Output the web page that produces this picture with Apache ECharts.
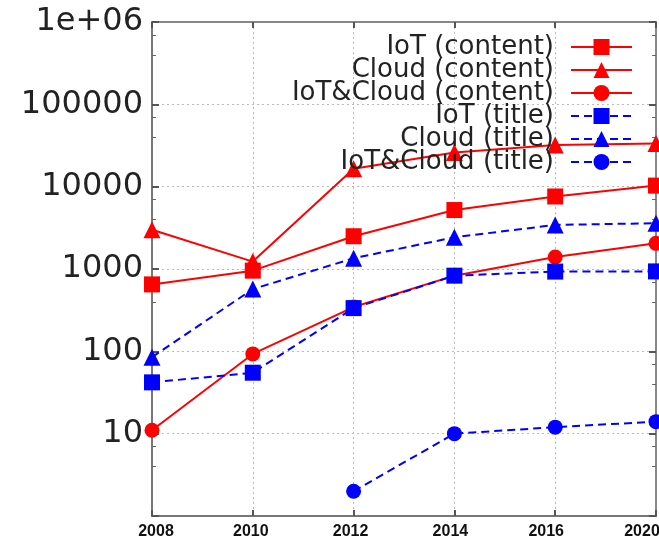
<!DOCTYPE html>
<html>
<head>
<meta charset="utf-8">
<script src="https://cdn.jsdelivr.net/npm/echarts@6/dist/echarts.min.js"></script>
<style>
html,body{margin:0;padding:0;background:#fff;}
#c{width:659px;height:544px;}
</style>
</head>
<body>
<div id="c"></div>
<script>
var years = ['2008', '2010', '2012', '2014', '2016', '2020'];
var iotContent = [650, 955, 2500, 5200, 7600, 10300];
var cloudContent = [3000, 1230, 16500, 26000, 32000, 33500];
var iotCloudContent = [11, 93, 345, 830, 1400, 2050];
var iotTitle = [42, 55, 335, 830, 930, 935];
var cloudTitle = [85, 570, 1350, 2430, 3430, 3600];
var iotCloudTitle = [null, null, 2, 10, 12, 14];
var yTickLabels = {1: '', 10: '10', 100: '100', 1000: '1000', 10000: '10000', 100000: '100000', 1000000: '1e+06'};

var RED = '#ff0000', BLUE = '#0000ff';
// the year labels in the picture sit slightly off their ticks
var labelShift = [4, -2, -3, -4, -9, -14];
var xData = years.map(function (y, i) {
  var s = labelShift[i];
  return {value: y, textStyle: {padding: s >= 0 ? [0, 0, 0, 2 * s] : [0, -2 * s, 0, 0]}};
});
function mk(name, data, color, symbol, size, dashed) {
  return {
    name: name, type: 'line', data: data,
    symbol: symbol, symbolSize: size,
    showSymbol: true,
    lineStyle: {color: color, width: 2, type: dashed ? [8, 5] : 'solid'},
    itemStyle: {color: color},
    emphasis: {disabled: true},
    animation: false
  };
}
var gridLine = {show: true, lineStyle: {color: '#bbb', type: [2, 3], width: 1}};
var chart = echarts.init(document.getElementById('c'));
chart.setOption({
  backgroundColor: '#fff',
  animation: false,
  grid: {left: 152, right: 3, top: 22, bottom: 28, show: true, borderColor: '#888', borderWidth: 2, outerBoundsMode: 'none', containLabel: false},
  legend: {
    orient: 'vertical', right: 26, top: 34, padding: 0,
    align: 'right', itemWidth: 61, itemHeight: 20, itemGap: -3,
    selectedMode: false,
    textStyle: {fontFamily: 'DejaVu Sans', fontSize: 26, color: '#222', lineHeight: 23, padding: [0, 12, 0, 0]},
    data: ['IoT (content)', 'Cloud (content)', 'IoT&Cloud (content)', 'IoT (title)', 'Cloud (title)', 'IoT&Cloud (title)']
  },
  xAxis: [{
    type: 'category', data: xData, boundaryGap: false,
    axisLine: {lineStyle: {color: '#777', width: 2}},
    axisTick: {inside: true, length: 6, lineStyle: {color: '#555', width: 2}},
    axisLabel: {fontFamily: 'Liberation Sans', fontWeight: 'bold', fontSize: 16, color: '#111', margin: 8},
    splitLine: gridLine
  }, {
    type: 'category', data: years, boundaryGap: false, position: 'top',
    axisLine: {lineStyle: {color: '#888', width: 2}},
    axisTick: {inside: true, length: 6, lineStyle: {color: '#555', width: 2}},
    axisLabel: {show: false}, splitLine: {show: false}
  }],
  yAxis: [{
    type: 'log', logBase: 10, min: 1, max: 1000000, splitNumber: 6,
    axisLine: {show: true, lineStyle: {color: '#777', width: 2}},
    axisTick: {show: true, inside: true, length: 7, lineStyle: {color: '#555', width: 2}},
    minorTick: {show: true, splitNumber: 3, length: 4, lineStyle: {color: '#666'}},
    axisLabel: {fontFamily: 'DejaVu Sans', fontSize: 32, color: '#222', margin: 9,
      formatter: function (v) { var k = Math.round(v); return yTickLabels[k] !== undefined ? yTickLabels[k] : ''; }},
    splitLine: gridLine
  }, {
    type: 'log', logBase: 10, min: 1, max: 1000000, splitNumber: 6, position: 'right',
    axisLine: {show: true, lineStyle: {color: '#888', width: 2}},
    axisTick: {show: true, inside: true, length: 7, lineStyle: {color: '#555', width: 2}},
    minorTick: {show: true, splitNumber: 3, length: 4, lineStyle: {color: '#666'}},
    axisLabel: {show: false}, splitLine: {show: false}
  }],
  series: [
    mk('IoT (content)', iotContent, RED, 'rect', 16, false),
    mk('Cloud (content)', cloudContent, RED, 'triangle', 17, false),
    mk('IoT&Cloud (content)', iotCloudContent, RED, 'circle', 15, false),
    mk('IoT (title)', iotTitle, BLUE, 'rect', 16, true),
    mk('Cloud (title)', cloudTitle, BLUE, 'triangle', 17, true),
    mk('IoT&Cloud (title)', iotCloudTitle, BLUE, 'circle', 15, true)
  ]
});
</script>
</body>
</html>
